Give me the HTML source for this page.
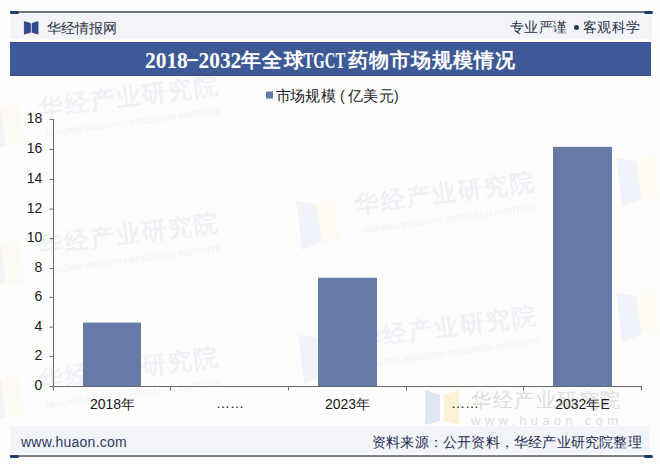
<!DOCTYPE html>
<html><head><meta charset="utf-8">
<style>
html,body{margin:0;padding:0;}
body{width:660px;height:464px;overflow:hidden;background:#fdfdfd;position:relative;font-family:"Liberation Sans",sans-serif;}
.abs{position:absolute;}
#frame{left:10px;top:12px;width:642px;height:444px;background:#fdfdfe;}
#hdr{left:10px;top:12px;width:642px;height:27px;background:#f3f4f8;}
#topline{left:10px;top:11px;width:642px;height:1.6px;background:#6f7579;}
#topL{left:10px;top:10.5px;width:8.5px;height:3px;border-radius:1.5px;background:#1f3a6e;}
#topR{left:644px;top:10.5px;width:8.5px;height:3px;border-radius:1.5px;background:#1f3a6e;}
#botline{left:10px;top:455px;width:642px;height:1.6px;background:#7b8286;}
#botL{left:10px;top:454.5px;width:8.5px;height:3px;border-radius:1.5px;background:#1f3a6e;}
#botR{left:644px;top:454.5px;width:8.5px;height:3px;border-radius:1.5px;background:#1f3a6e;}
#band{left:10px;top:41.8px;width:641px;height:31.8px;background:#3d5a96;border-top:1px solid #324b82;border-bottom:1px solid #3a4d7c;}
#brand{left:47px;top:18px;font-size:14px;font-weight:300;color:#2a3040;line-height:20px;}
#slogan1{left:510px;top:16.5px;font-size:14px;font-weight:300;letter-spacing:0.4px;color:#283048;line-height:20px;}
#slogan2{left:583px;top:16.5px;font-size:14px;font-weight:300;letter-spacing:0.4px;color:#283048;line-height:20px;}
#dot{left:573.5px;top:25px;width:5px;height:5px;border-radius:50%;background:#2f3a52;}
#foot{left:10px;top:426px;width:639px;height:26.5px;background:#f3f4f9;}
#www{left:21px;top:432px;font-size:14px;letter-spacing:0.25px;color:#2d3860;line-height:20px;}
#src{left:372px;top:431.5px;font-size:14px;font-weight:300;letter-spacing:0.2px;color:#222c52;line-height:20px;}
svg{position:absolute;left:0;top:0;}
</style></head><body>
<div class="abs" id="frame"></div><div class="abs" id="hdr"></div>
<div class="abs" id="topline"></div><div class="abs" id="topL"></div><div class="abs" id="topR"></div>
<svg width="660" height="464" viewBox="0 0 660 464">
  <!-- logo -->
  <polygon points="24.4,21.6 30.4,23.5 30.4,32.3 24.4,34.1" fill="#2c4a94" stroke="#1c2f66" stroke-width="0.7" stroke-linejoin="round"/>
  <polygon points="32.1,23.5 38,21.6 38,34.1 32.1,32.3" fill="#2c4a94" stroke="#1c2f66" stroke-width="0.7" stroke-linejoin="round"/>
</svg>
<div class="abs" id="brand">华经情报网</div>
<div class="abs" id="slogan1">专业严谨</div><div class="abs" id="slogan2">客观科学</div><div class="abs" id="dot"></div>
<svg width="660" height="464" viewBox="0 0 660 464">
  <defs>
    <filter id="bl" x="-20%" y="-20%" width="140%" height="140%"><feGaussianBlur stdDeviation="0.6"/></filter>
  </defs>
  <g transform="translate(40,116.5) rotate(-7.5)" filter="url(#bl)">
      <polygon points="-58,-20 -38,-14 -38,24 -58,30" fill="#f0f3f9"/>
      <polygon points="-38,-14 -20,-19 -20,27 -38,24" fill="#fdfbf3"/>
      <text x="0" y="0" font-family="Liberation Sans, sans-serif" font-weight="bold" font-size="24" letter-spacing="2" fill="#eff0f4">华经产业研究院</text>
      <text x="4" y="21" font-family="Liberation Sans, sans-serif" font-size="9.5" font-weight="bold" textLength="176" lengthAdjust="spacingAndGlyphs" fill="#f3f4f7">HUAJING INDUSTRY RESEARCH INSTITUTE</text>
    </g>
  <g transform="translate(40,254) rotate(-7.5)" filter="url(#bl)">
      <polygon points="-58,-20 -38,-14 -38,24 -58,30" fill="#f0f3f9"/>
      <polygon points="-38,-14 -20,-19 -20,27 -38,24" fill="#fdfbf3"/>
      <text x="0" y="0" font-family="Liberation Sans, sans-serif" font-weight="bold" font-size="24" letter-spacing="2" fill="#eff0f4">华经产业研究院</text>
      <text x="4" y="21" font-family="Liberation Sans, sans-serif" font-size="9.5" font-weight="bold" textLength="176" lengthAdjust="spacingAndGlyphs" fill="#f3f4f7">HUAJING INDUSTRY RESEARCH INSTITUTE</text>
    </g>
  <g transform="translate(40,388) rotate(-7.5)" filter="url(#bl)">
      <polygon points="-58,-20 -38,-14 -38,24 -58,30" fill="#f0f3f9"/>
      <polygon points="-38,-14 -20,-19 -20,27 -38,24" fill="#fdfbf3"/>
      <text x="0" y="0" font-family="Liberation Sans, sans-serif" font-weight="bold" font-size="24" letter-spacing="2" fill="#eff0f4">华经产业研究院</text>
      <text x="4" y="21" font-family="Liberation Sans, sans-serif" font-size="9.5" font-weight="bold" textLength="176" lengthAdjust="spacingAndGlyphs" fill="#f3f4f7">HUAJING INDUSTRY RESEARCH INSTITUTE</text>
    </g>
  <g transform="translate(356,213) rotate(-7.5)" filter="url(#bl)">
      <polygon points="-58,-20 -38,-14 -38,24 -58,30" fill="#f0f3f9"/>
      <polygon points="-38,-14 -20,-19 -20,27 -38,24" fill="#fdfbf3"/>
      <text x="0" y="0" font-family="Liberation Sans, sans-serif" font-weight="bold" font-size="24" letter-spacing="2" fill="#eff0f4">华经产业研究院</text>
      <text x="4" y="21" font-family="Liberation Sans, sans-serif" font-size="9.5" font-weight="bold" textLength="176" lengthAdjust="spacingAndGlyphs" fill="#f3f4f7">HUAJING INDUSTRY RESEARCH INSTITUTE</text>
    </g>
  <g transform="translate(358,347) rotate(-7.5)" filter="url(#bl)">
      <polygon points="-58,-20 -38,-14 -38,24 -58,30" fill="#f0f3f9"/>
      <polygon points="-38,-14 -20,-19 -20,27 -38,24" fill="#fdfbf3"/>
      <text x="0" y="0" font-family="Liberation Sans, sans-serif" font-weight="bold" font-size="24" letter-spacing="2" fill="#eff0f4">华经产业研究院</text>
      <text x="4" y="21" font-family="Liberation Sans, sans-serif" font-size="9.5" font-weight="bold" textLength="176" lengthAdjust="spacingAndGlyphs" fill="#f3f4f7">HUAJING INDUSTRY RESEARCH INSTITUTE</text>
    </g>
  <g transform="translate(676,170) rotate(-7.5)" filter="url(#bl)">
      <polygon points="-58,-20 -38,-14 -38,24 -58,30" fill="#f0f3f9"/>
      <polygon points="-38,-14 -20,-19 -20,27 -38,24" fill="#fdfbf3"/>
      <text x="0" y="0" font-family="Liberation Sans, sans-serif" font-weight="bold" font-size="24" letter-spacing="2" fill="#eff0f4">华经产业研究院</text>
      <text x="4" y="21" font-family="Liberation Sans, sans-serif" font-size="9.5" font-weight="bold" textLength="176" lengthAdjust="spacingAndGlyphs" fill="#f3f4f7">HUAJING INDUSTRY RESEARCH INSTITUTE</text>
    </g>
  <g transform="translate(676,305) rotate(-7.5)" filter="url(#bl)">
      <polygon points="-58,-20 -38,-14 -38,24 -58,30" fill="#f0f3f9"/>
      <polygon points="-38,-14 -20,-19 -20,27 -38,24" fill="#fdfbf3"/>
      <text x="0" y="0" font-family="Liberation Sans, sans-serif" font-weight="bold" font-size="24" letter-spacing="2" fill="#eff0f4">华经产业研究院</text>
      <text x="4" y="21" font-family="Liberation Sans, sans-serif" font-size="9.5" font-weight="bold" textLength="176" lengthAdjust="spacingAndGlyphs" fill="#f3f4f7">HUAJING INDUSTRY RESEARCH INSTITUTE</text>
    </g>
</svg>
<div class="abs" id="band"></div>
<svg width="660" height="464" viewBox="0 0 660 464">
  <g fill="#ffffff">
    <text transform="translate(145,67.8) scale(1,1.06)" font-family="Liberation Serif, serif" font-weight="bold" font-size="21.4">2018</text>
    <rect x="187" y="59.1" width="11.2" height="2" fill="#ffffff"/>
    <text transform="translate(198.5,67.8) scale(1,1.06)" font-family="Liberation Serif, serif" font-weight="bold" font-size="21.4">2032</text>
    <text x="241" y="67" font-family="Liberation Sans, sans-serif" font-weight="bold" font-size="19.5" letter-spacing="1.4">年全球</text>
    <text transform="translate(303.5,67.6) scale(0.72,1.13)" font-family="Liberation Serif, serif" font-weight="bold" font-size="20.5">TGCT</text>
    <text x="348" y="67" font-family="Liberation Sans, sans-serif" font-weight="bold" font-size="19.5" letter-spacing="1.05">药物市场规模情况</text>
  </g>
</svg>
<svg width="660" height="464" viewBox="0 0 660 464">
  <polygon points="425,390 440,395 440,421 425,425" fill="#dfe7f5"/>
  <polygon points="444,395 459,390 459,425 444,421" fill="#fcf3d6"/>
  <text x="471" y="406.5" font-family="Liberation Sans, sans-serif" font-size="20" letter-spacing="1.5" fill="#dcdcdc">华经产业研究院</text>
  <text x="471" y="425" font-family="Liberation Sans, sans-serif" font-size="13" letter-spacing="4.3" fill="#dedede">www.huaon.com</text>
</svg>
<svg width="660" height="464" viewBox="0 0 660 464">
  <!-- bars -->
  <rect x="83" y="322.6" width="58" height="64.4" fill="#657aa6"/>
  <rect x="318" y="277.8" width="59" height="109.2" fill="#657aa6"/>
  <rect x="553" y="146.9" width="59" height="240.1" fill="#657aa6"/>
  <!-- axes -->
  <g stroke="#6a6a6a" stroke-width="1" fill="none">
    <line x1="53.5" y1="119" x2="53.5" y2="390.5"/>
    <line x1="49.5" y1="386.5" x2="642" y2="386.5"/>
    <line x1="49.5" y1="356.4" x2="53.5" y2="356.4"/>
    <line x1="49.5" y1="327.1" x2="53.5" y2="327.1"/>
    <line x1="49.5" y1="297.4" x2="53.5" y2="297.4"/>
    <line x1="49.5" y1="268.5" x2="53.5" y2="268.5"/>
    <line x1="49.5" y1="238.6" x2="53.5" y2="238.6"/>
    <line x1="49.5" y1="209.1" x2="53.5" y2="209.1"/>
    <line x1="49.5" y1="179.5" x2="53.5" y2="179.5"/>
    <line x1="49.5" y1="149.4" x2="53.5" y2="149.4"/>
    <line x1="49.5" y1="119.4" x2="53.5" y2="119.4"/>
    <line x1="170.5" y1="386.5" x2="170.5" y2="390.5"/>
    <line x1="288.5" y1="386.5" x2="288.5" y2="390.5"/>
    <line x1="406.5" y1="386.5" x2="406.5" y2="390.5"/>
    <line x1="523.5" y1="386.5" x2="523.5" y2="390.5"/>
    <line x1="641.5" y1="386.5" x2="641.5" y2="390.5"/>
  </g>
  <g fill="#1a1a1a" font-family="Liberation Sans, sans-serif" font-size="14" text-anchor="end">
    <text x="42.3" y="390.2">0</text>
    <text x="42.3" y="360.1">2</text>
    <text x="42.3" y="330.8">4</text>
    <text x="42.3" y="301.1">6</text>
    <text x="42.3" y="272.2">8</text>
    <text x="42.3" y="242.3">10</text>
    <text x="42.3" y="212.8">12</text>
    <text x="42.3" y="183.2">14</text>
    <text x="42.3" y="153.1">16</text>
    <text x="42.3" y="123.1">18</text>
  </g>
  <g fill="#1a1a1a" font-family="Liberation Sans, sans-serif" font-size="14" text-anchor="middle">
    <text x="112.5" y="408.5">2018年</text>
    <text x="230" y="407.5">……</text>
    <text x="347.5" y="408.5">2023年</text>
    <text x="465" y="407.5">……</text>
    <text x="582.5" y="408.5">2032年E</text>
  </g>
  <!-- legend -->
  <rect x="266" y="91.5" width="7" height="7" fill="#657aa6"/>
  <text x="275.8 289.6 305.3 321.1" y="100.5" font-family="Liberation Sans, sans-serif" font-size="15" fill="#1e1e1e">市场规模</text>
  <text x="340 394" y="100.5" font-family="Liberation Sans, sans-serif" font-size="14" fill="#1e1e1e">()</text>
  <text x="347.5 362.6 379" y="100.5" font-family="Liberation Sans, sans-serif" font-size="15" fill="#1e1e1e">亿美元</text>
</svg>
<div class="abs" id="foot"></div>
<div class="abs" id="www">www.huaon.com</div>
<div class="abs" id="src">资料来源：公开资料，华经产业研究院整理</div>
<div class="abs" id="botline"></div><div class="abs" id="botL"></div><div class="abs" id="botR"></div>
</body></html>
